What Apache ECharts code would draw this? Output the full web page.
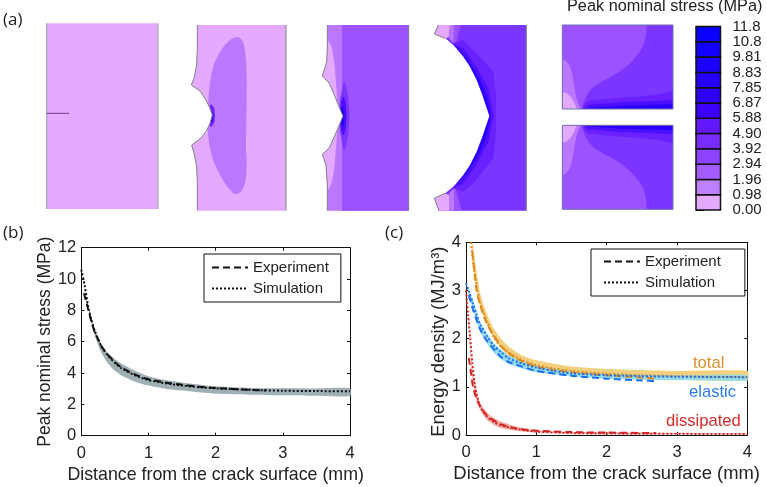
<!DOCTYPE html>
<html><head><meta charset="utf-8">
<style>html,body{margin:0;padding:0;background:#fff}#c{width:767px;height:487px}</style>
<script src="https://cdn.jsdelivr.net/npm/echarts@6/dist/echarts.min.js"></script>
</head><body><div id="c"></div>
<script>
// ---------- colour scale ----------
const colorbarTicks = ['0.00','0.98','1.96','2.94','3.92','4.90','5.88','6.87','7.85','8.83','9.81','10.8','11.8'];
const colorbarFill = ['#e3aaff','#bf80ff','#a45cff','#8c42ff','#772dff','#6418ff','#3c00ff','#3000ff','#2600ff','#1c00ff','#1200ff','#0a00ff'];
const contourFill = ['#e3aaff','#bb78ff','#9b52ff','#7c35ff','#6a20ff','#4a10ff','#2800ff','#1000ff'];

// ---------- contour outlines: [level, points, smoothing], in panel units ----------
const crackP2 = [[34,210],[60,228],[78,255],[90,280],[97,300],[90,325],[78,350],[60,372],[35,390]];
const crackP3 = [[37,183],[58,205],[75,245],[88,278],[99,303],[88,330],[75,360],[58,398],[37,418]];
const crackP4 = [[28,57],[60,70],[90,95],[115,125],[135,155],[155,195],[172,240],[193,303],[172,365],[155,410],[135,450],[115,480],[90,510],[60,535],[28,550]];
const rev = a => a.slice().reverse();

const panel1 = [[0,[[140,70],[474,70],[474,627],[140,627]],0]];
const panel2 = [
  [0,[[52,30],[318,30],[318,587],[52,587],[52,500],[50,455],[42,415],...rev(crackP2),[42,190],[50,150],[52,100]],0],
  [1,[[172,67],[183,72],[191,88],[197,125],[200,180],[200,250],[199,320],[198,400],[200,450],[195,505],[182,530],[168,537],[155,530],[135,505],[110,460],[95,420],[86,375],[84,330],[85,260],[90,205],[100,155],[115,120],[135,90],[155,72]],0.4],
  [4,[[92,268],[103,282],[103,320],[92,335],[85,300]],0.3],
  [6,[[93,285],[100,300],[96,322],[88,300]],0.2]
];
const panel3 = [
  [1,[[52,30],[296,30],[296,587],[52,587],[52,510],[48,450],...rev(crackP3),[50,140],[52,100]],0],
  [2,[[96,30],[296,30],[296,587],[96,587]],0],
  [0,[[53,75],[65,95],[73,140],[78,205],[82,262],[75,245],[58,205],[37,183],[50,140],[52,100]],0],
  [0,[[53,527],[65,505],[73,460],[78,395],[82,342],[75,360],[58,398],[37,418],[48,450],[52,510]],0],
  [3,[[103,200],[111,225],[116,260],[118,303],[116,345],[111,380],[103,405],[96,380],[90,345],[88,303],[90,260],[96,225]],0.4],
  [5,[[100,245],[108,275],[108,330],[100,360],[92,330],[92,275]],0.5],
  [6,[[98,275],[103,303],[98,335],[88,303]],0.4]
];
const panel4 = [
  [3,[[40,30],[304,30],[304,587],[42,587],...rev(crackP4)],0],
  [0,[[40,30],[75,30],[72,65],[60,72],[28,57]],0],
  [1,[[75,30],[87,30],[86,85],[72,70]],0],
  [2,[[87,30],[108,30],[100,55],[90,95],[86,85]],0],
  [0,[[42,587],[72,587],[72,540],[60,535],[28,550]],0],
  [1,[[72,587],[87,587],[87,520],[72,535]],0],
  [2,[[87,587],[110,587],[100,550],[90,515],[87,520]],0],
  [4,[[85,85],[115,75],[160,120],[205,170],[213,240],[213,350],[205,430],[150,500],[115,530],[85,520],[150,300]],0],
  [5,[[85,88],[115,100],[150,150],[190,220],[205,303],[190,380],[150,455],[115,505],[85,518],[150,300]],0],
  [6,[[90,92],[130,135],[165,195],[185,245],[197,303],[185,360],[165,410],[130,470],[90,512],[150,300]],0]
];
const panel5 = [
  [2,[[22,30],[354,30],[354,282],[22,282]],0],
  [3,[[275,30],[273,60],[266,90],[252,115],[230,140],[205,162],[175,182],[145,197],[120,212],[103,228],[92,248],[85,265],[80,282],[354,282],[354,30]],0],
  [4,[[84,278],[90,265],[105,256],[200,248],[300,240],[354,228],[354,282]],0],
  [5,[[354,255],[300,258],[200,262],[100,270],[84,282],[354,282]],0],
  [6,[[354,268],[200,272],[90,280],[84,282],[354,282]],0],
  [1,[[22,133],[33,138],[43,150],[50,170],[55,195],[60,230],[68,262],[78,282],[22,282]],0],
  [0,[[22,230],[35,234],[47,245],[57,262],[66,282],[22,282]],0],
  [2,[[22,331],[354,331],[354,583],[22,583]],0],
  [3,[[275,583],[273,553],[266,523],[252,498],[230,473],[205,451],[175,431],[145,416],[120,401],[103,385],[92,365],[85,348],[80,331],[354,331],[354,583]],0],
  [4,[[84,335],[90,348],[105,357],[200,365],[300,373],[354,385],[354,331]],0],
  [5,[[354,358],[300,355],[200,351],[100,343],[84,331],[354,331]],0],
  [6,[[354,345],[200,341],[90,333],[84,331],[354,331]],0],
  [1,[[22,480],[33,475],[43,463],[50,443],[55,418],[60,383],[68,351],[78,331],[22,331]],0],
  [0,[[22,383],[35,379],[47,368],[57,351],[66,331],[22,331]],0]
];
const crackLine1 = [[140,340],[207,340]];
const edges1 = [[[140,70],[140,627]],[[474,70],[474,627]]];
const edges2 = [[[52,30],[52,100],[50,150],[42,190],...crackP2,[42,415],[50,455],[52,500],[52,587]],[[318,30],[318,587]]];
const edges3 = [[[52,30],[52,100],[50,140],...crackP3,[48,450],[52,510],[52,587]],[[296,30],[296,587]]];
const edges4 = [[[40,30],[28,57],[60,70]],[[60,535],[28,550],[42,587]],[[304,30],[304,587]]];
const edges5 = [[[22,282],[22,30],[354,30],[354,282],[22,282]],[[22,331],[22,583],[354,583],[354,331],[22,331]]];

// ---------- (b) peak nominal stress ----------
const bSimulation = [[0,10.6],[0.05,9.6],[0.1,8.3],[0.15,7.4],[0.2,6.7],[0.25,6.2],[0.3,5.7],[0.4,5.1],[0.5,4.65],[0.6,4.3],[0.8,3.85],[1,3.55],[1.25,3.35],[1.5,3.2],[1.75,3.1],[2,3.02],[2.5,2.93],[3,2.87],[3.5,2.85],[4,2.83]];
const bExperiment = [[0.04,9.1],[0.1,8.1],[0.15,7.3],[0.2,6.6],[0.25,6.15],[0.3,5.7],[0.4,5.15],[0.5,4.7],[0.6,4.35],[0.8,3.9],[1,3.6],[1.25,3.4],[1.5,3.25],[1.75,3.13],[2,3.05],[2.5,2.93],[2.75,2.88]];
const bBandX = [0,0.1,0.2,0.3,0.4,0.5,0.6,0.8,1,1.25,1.5,2,2.5,3,3.5,4];
const bBandLow = [10.6,8.2,6.4,5.3,4.6,4.15,3.85,3.45,3.2,3.0,2.88,2.68,2.62,2.58,2.55,2.53];
const bBandHigh = [10.6,8.4,6.8,5.85,5.25,4.9,4.6,4.15,3.8,3.55,3.4,3.15,3.05,3.03,3.02,3.02];

// ---------- (c) energy density ----------
const totalSimulation = [[0.07,4],[0.1,3.6],[0.15,3.1],[0.2,2.75],[0.3,2.35],[0.4,2.02],[0.5,1.83],[0.6,1.72],[0.8,1.55],[1,1.45],[1.25,1.38],[1.5,1.33],[2,1.27],[2.5,1.24],[3,1.22],[4,1.2]];
const totalExperiment = [[0.09,3.8],[0.15,3.0],[0.2,2.7],[0.3,2.3],[0.5,1.85],[0.7,1.6],[1,1.42],[1.5,1.3],[2,1.24],[2.5,1.19],[2.7,1.17]];
const elasticSimulation = [[0,3.15],[0.05,2.95],[0.1,2.72],[0.15,2.5],[0.2,2.3],[0.3,2.05],[0.4,1.85],[0.5,1.72],[0.6,1.6],[0.8,1.48],[1,1.4],[1.25,1.33],[1.5,1.28],[2,1.24],[2.5,1.22],[3,1.21],[4,1.2]];
const elasticExperiment = [[0.04,2.9],[0.1,2.6],[0.2,2.2],[0.3,1.95],[0.5,1.62],[0.6,1.52],[0.8,1.42],[1,1.33],[1.5,1.23],[2,1.17],[2.5,1.13],[2.7,1.12]];
const dissipatedSimulation = [[0,3],[0.03,2.5],[0.06,2.0],[0.09,1.5],[0.12,1.1],[0.15,0.85],[0.2,0.6],[0.3,0.38],[0.4,0.27],[0.5,0.2],[0.7,0.13],[1,0.07],[1.5,0.04],[2,0.03],[4,0.02]];
const dissipatedExperiment = [[0.04,1.6],[0.07,1.3],[0.1,1.0],[0.15,0.75],[0.2,0.6],[0.3,0.4],[0.5,0.22],[0.7,0.14],[1,0.09],[1.5,0.06],[2,0.05],[2.7,0.04]];
const totalBandX = [0.09,0.2,0.3,0.4,0.5,0.6,0.8,1,1.5,2,3,4];
const totalBandLow = [3.6,2.7,2.28,2.0,1.8,1.65,1.5,1.38,1.24,1.17,1.14,1.13];
const totalBandHigh = [4,2.95,2.5,2.2,2.0,1.85,1.65,1.55,1.42,1.37,1.33,1.33];
const elasticBandX = [0,0.1,0.2,0.3,0.4,0.5,0.6,0.8,1,1.5,2,3,4];
const elasticBandLow = [3.15,2.6,2.15,1.9,1.7,1.57,1.48,1.38,1.3,1.22,1.17,1.14,1.13];
const elasticBandHigh = [3.15,2.8,2.35,2.1,1.9,1.77,1.66,1.53,1.45,1.32,1.27,1.24,1.24];
const dissipatedBandX = [0,0.1,0.2,0.3,0.4,0.5,0.7,1,1.5,2,4];
const dissipatedBandLow = [3,1.1,0.52,0.31,0.2,0.14,0.09,0.05,0.03,0.02,0.02];
const dissipatedBandHigh = [3,1.3,0.68,0.47,0.35,0.28,0.18,0.1,0.06,0.05,0.03];
const bandColors = {grey:'#9fb1b5', total:'#f3cf80', elastic:'#93dcf0', dissipated:'#efa9a2'};
const lineColors = {total:'#e08a1e', elastic:'#1c70f0', dissipated:'#d42424'};

// ---------- option assembly ----------
const F = '"Liberation Sans", Arial, sans-serif';
const TXT = '#222';
const grids=[], xAxes=[], yAxes=[], series=[];
function hiddenAxes(w,h){
  xAxes.push({type:'value',gridIndex:grids.length-1,min:0,max:w,show:false});
  yAxes.push({type:'value',gridIndex:grids.length-1,min:0,max:h,inverse:true,show:false});
}
function addPanel(left,top,w,h,contours,edges,crack,extra){
  grids.push({left,top,width:w,height:h,show:false});
  hiddenAxes(w*3,h*3);
  const idx=grids.length-1;
  series.push({type:'custom',xAxisIndex:idx,yAxisIndex:idx,silent:true,clip:false,
    data:contours.map((c,i)=>[i,0]),
    encode:{x:0,y:1},
    renderItem:(p,api)=>{const c=contours[api.value(0)];
      return {type:'polygon',shape:{points:c[1].map(q=>api.coord(q)),smooth:c[2]||0},style:{fill:contourFill[c[0]],stroke:null}};}
  });
  if(crack) series.push({type:'custom',xAxisIndex:idx,yAxisIndex:idx,silent:true,clip:false,
    data:[[0,0]],encode:{x:0,y:1},
    renderItem:(p,api)=>({type:'polygon',shape:{points:crack.map(q=>api.coord(q))},style:{fill:'#fff',stroke:null}})
  });
  edges.forEach(e=>series.push({type:'line',xAxisIndex:idx,yAxisIndex:idx,data:e,symbol:'none',silent:true,
    lineStyle:{color:extra||'#808088',width:1}}));
}
addPanel(0,0,400,225,panel1,edges1,null,'#a0a0a0');
series.push({type:'line',xAxisIndex:0,yAxisIndex:0,data:crackLine1,symbol:'none',silent:true,lineStyle:{color:'#6a3a80',width:1}});
addPanel(180,15,120,200,panel2,edges2,crackP2);
addPanel(310,15,120,200,panel3,edges3,crackP3);
addPanel(425,15,120,200,panel4,edges4,crackP4);
addPanel(555,15,125,200,panel5,edges5,null,'#6f6fb0');

// colour bar
grids.push({left:696,top:26.5,width:24.5,height:183.5,show:false});
let gi=grids.length-1;
xAxes.push({type:'value',gridIndex:gi,min:0,max:1,show:false});
yAxes.push({type:'value',gridIndex:gi,position:'right',min:0,max:12,interval:1,
  axisLine:{show:false},splitLine:{show:false},
  axisTick:{show:true,length:8,lineStyle:{color:'#111',width:1}},
  axisLabel:{margin:12,color:TXT,fontFamily:F,fontSize:15,showMinLabel:true,showMaxLabel:true,hideOverlap:false,formatter:v=>colorbarTicks[v]}});
series.push({type:'custom',xAxisIndex:gi,yAxisIndex:gi,silent:true,clip:false,
  data:colorbarFill.map((c,i)=>[i,i]),encode:{x:0,y:1},
  renderItem:(p,api)=>{const i=api.value(0),a=api.coord([0,i+1]),b=api.coord([1,i]);
    return {type:'rect',shape:{x:a[0],y:a[1],width:b[0]-a[0],height:b[1]-a[1]},style:{fill:colorbarFill[i],stroke:'#111',lineWidth:1.5}};}
});

function addPlot(left,top,w,h,xName,yName,yMax,yInt,yGap,xSize,ySize,yPad){
  grids.push({left,top,width:w,height:h,show:false});
  const g=grids.length-1;
  const base={gridIndex:g,type:'value',splitLine:{show:false},
    axisLine:{show:true,onZero:false,lineStyle:{color:'#111',width:1}},
    axisTick:{show:true,inside:true,length:3,lineStyle:{color:'#111',width:1}}};
  const lab={color:TXT,fontFamily:F,fontSize:16.5,margin:9,showMinLabel:true,showMaxLabel:true,hideOverlap:false};
  xAxes.push({...base,min:0,max:4,interval:1,position:'bottom',axisLabel:lab,name:xName,nameLocation:'middle',nameGap:30,
    nameTextStyle:{color:TXT,fontFamily:F,fontSize:xSize}});
  yAxes.push({...base,min:0,max:yMax,interval:yInt,position:'left',axisLabel:{...lab,margin:5},name:yName,nameLocation:'middle',nameGap:yGap,
    nameTextStyle:{color:TXT,fontFamily:F,fontSize:ySize,padding:yPad}});
  xAxes.push({...base,min:0,max:4,interval:1,position:'top',axisLabel:{show:false}});
  yAxes.push({...base,min:0,max:yMax,interval:yInt,position:'right',axisLabel:{show:false}});
  return [xAxes.length-2,yAxes.length-2];
}
function addBand(ax,xs,lo,hi,col,op,blend){
  series.push({type:'custom',xAxisIndex:ax[0],yAxisIndex:ax[1],silent:true,data:[[xs[0],lo[0]]],encode:{x:0,y:1},z:1,
    renderItem:(p,api)=>{
      const upper=xs.map((x,i)=>api.coord([x,hi[i]]));
      const lower=xs.map((x,i)=>api.coord([x,lo[i]])).reverse();
      return {type:'polygon',shape:{points:upper.concat(lower),smooth:0.2},style:{fill:col,opacity:op,stroke:null,blend:blend||'source-over'}};
    }});
}
function addLine(ax,name,data,col,dash,w){
  series.push({name,type:'line',xAxisIndex:ax[0],yAxisIndex:ax[1],data,symbol:'none',silent:true,smooth:0.25,
    lineStyle:{color:col,type:dash,width:w},itemStyle:{color:col},z:3});
}
const DASH=[7,4], DOT=[2,2];

const axB=addPlot(81.3,247.7,268.7,188,'Distance from the crack surface (mm)','Peak nominal stress (MPa)',12,2,22,17.8,17.5,0);
addBand(axB,bBandX,bBandLow,bBandHigh,bandColors.grey,1);
addLine(axB,'Experiment',bExperiment,'#111',DASH,2);
addLine(axB,'Simulation',bSimulation,'#111',DOT,2);

const axC=addPlot(466,242.3,281.3,192.7,'Distance from the crack surface (mm)','Energy density (MJ/m³)',4,1,18,18.4,18.4,[0,6,0,0]);
addBand(axC,totalBandX,totalBandLow,totalBandHigh,bandColors.total,1,'multiply');
addBand(axC,elasticBandX,elasticBandLow,elasticBandHigh,bandColors.elastic,1,'multiply');
addBand(axC,dissipatedBandX,dissipatedBandLow,dissipatedBandHigh,bandColors.dissipated,0.9);
addLine(axC,'total experiment',totalExperiment,lineColors.total,DASH,2);
addLine(axC,'elastic experiment',elasticExperiment,lineColors.elastic,DASH,2);
addLine(axC,'dissipated experiment',dissipatedExperiment,lineColors.dissipated,DASH,2);
addLine(axC,'total simulation',totalSimulation,lineColors.total,DOT,2);
addLine(axC,'elastic simulation',elasticSimulation,lineColors.elastic,DOT,2);
addLine(axC,'dissipated simulation',dissipatedSimulation,lineColors.dissipated,DOT,2);

const legendBase={orient:'vertical',data:['Experiment','Simulation'],selectedMode:false,borderColor:'#111',borderWidth:1,
  itemWidth:36,itemHeight:10,itemGap:6,itemStyle:{opacity:0},textStyle:{color:TXT,fontFamily:F,fontSize:15}};
function txt(x,y,text,size,color,family){return {type:'text',left:x,top:y,silent:true,style:{text,fontSize:size,fill:color||TXT,fontFamily:family||F}};}

const chart=echarts.init(document.getElementById('c'),null,{renderer:'canvas'});
chart.setOption({
  animation:false,backgroundColor:'#fff',
  grid:grids,xAxis:xAxes,yAxis:yAxes,series,
  legend:[
    {...legendBase,left:204,top:254,padding:[6,12,6,7]},
    {...legendBase,left:591,top:249,padding:[5,24,6,12]}
  ],
  graphic:[
    txt(3,12,'(a)',17,'#222','"Open Sans"'),
    txt(3,225,'(b)',17,'#222','"Open Sans"'),
    txt(385,225,'(c)',17,'#222','"Open Sans"'),
    txt(567,-1,'Peak nominal stress (MPa)',16.3),
    txt(693,354.5,'total',16.6,'#dc8f2e'),
    txt(689,383.5,'elastic',16.6,'#2b7bee'),
    txt(666,412.5,'dissipated',16.6,'#d62b2b')
  ]
});
</script></body></html>
